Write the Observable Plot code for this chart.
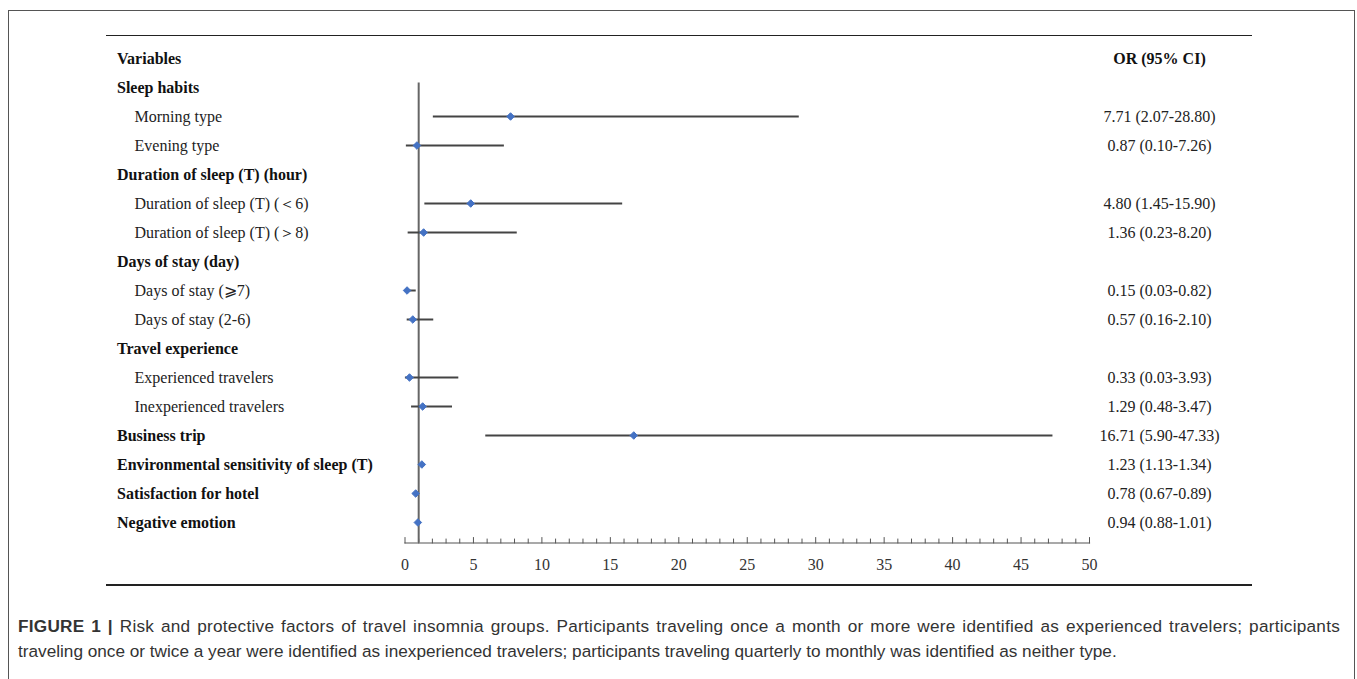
<!DOCTYPE html>
<html><head><meta charset="utf-8">
<script src="https://cdn.jsdelivr.net/npm/d3@7"></script>
<script src="https://cdn.jsdelivr.net/npm/@observablehq/plot@0.6"></script>
<style>
html,body{margin:0;padding:0;background:#fff;width:1357px;height:679px;overflow:hidden;position:relative}
#border{position:absolute;left:8px;top:10px;width:1347px;height:720px;border:1px solid #555;box-sizing:border-box}
#fig{position:absolute;left:106px;top:35px;width:1146px;border-top:1.5px solid #222;border-bottom:2px solid #222}
#fig svg{display:block;overflow:visible}
#caption{position:absolute;left:18px;top:614px;width:1322px;font-family:"Liberation Sans",Arial,sans-serif;font-size:17.2px;line-height:25px;color:#333}
#caption .l1{text-align:justify;text-align-last:justify;white-space:nowrap;letter-spacing:0.25px}
#caption b{font-weight:bold}
</style></head>
<body>
<div id="border"></div>
<div id="fig"></div>
<div id="caption"><div class="l1"><b>FIGURE 1 |</b> Risk and protective factors of travel insomnia groups. Participants traveling once a month or more were identified as experienced travelers; participants</div><div>traveling once or twice a year were identified as inexperienced travelers; participants traveling quarterly to monthly was identified as neither type.</div></div>
<script>
const labels = [
  "Variables",
  "Sleep habits",
  "Morning type",
  "Evening type",
  "Duration of sleep (T) (hour)",
  "Duration of sleep (T) (＜6)",
  "Duration of sleep (T) (＞8)",
  "Days of stay (day)",
  "Days of stay (⩾7)",
  "Days of stay (2-6)",
  "Travel experience",
  "Experienced travelers",
  "Inexperienced travelers",
  "Business trip",
  "Environmental sensitivity of sleep (T)",
  "Satisfaction for hotel",
  "Negative emotion"
];
const isHeader = [true, true, false, false, true, false, false, true, false, false, true, false, false, true, true, true, true];
const orValues = [null, null, 7.71, 0.87, null, 4.80, 1.36, null, 0.15, 0.57, null, 0.33, 1.29, 16.71, 1.23, 0.78, 0.94];
const ciLow    = [null, null, 2.07, 0.10, null, 1.45, 0.23, null, 0.03, 0.16, null, 0.03, 0.48, 5.90, 1.13, 0.67, 0.88];
const ciHigh   = [null, null, 28.80, 7.26, null, 15.90, 8.20, null, 0.82, 2.10, null, 3.93, 3.47, 47.33, 1.34, 0.89, 1.01];
const orLabels = ["OR (95% CI)", "", "7.71 (2.07-28.80)", "0.87 (0.10-7.26)", "", "4.80 (1.45-15.90)", "1.36 (0.23-8.20)", "",
  "0.15 (0.03-0.82)", "0.57 (0.16-2.10)", "", "0.33 (0.03-3.93)", "1.29 (0.48-3.47)", "16.71 (5.90-47.33)",
  "1.23 (1.13-1.34)", "0.78 (0.67-0.89)", "0.94 (0.88-1.01)"];
const tickLabels = [0, 5, 10, 15, 20, 25, 30, 35, 40, 45, 50];
const minorTicks = d3.range(0, 51).filter(v => v % 5 !== 0);
const referenceOR = 1;

const rows = labels.map((label, i) => ({
  label, header: isHeader[i], or: orValues[i], lo: ciLow[i], hi: ciHigh[i], orText: orLabels[i], first: i === 0
}));
const est = rows.filter(d => d.or != null);

const serif = "'Liberation Serif','Times New Roman',serif";
const tickShape = {draw(context, l) { context.moveTo(0, 0); context.lineTo(0, -l); }};

const chart = Plot.plot({
  width: 1146,
  height: 548,
  marginTop: 16,
  marginBottom: 41.5,
  marginLeft: 298.5,
  marginRight: 163,
  style: {fontFamily: serif, background: "transparent", overflow: "visible"},
  x: {domain: [0, 50]},
  y: {type: "point", domain: labels, padding: 0, insetBottom: 15.5, axis: null},
  marks: [
    Plot.frame({anchor: "bottom", stroke: "#555", strokeWidth: 1.2}),
    Plot.vector(minorTicks, {x: d => d, frameAnchor: "bottom", length: 4, rotate: 0, anchor: "start", shape: tickShape, stroke: "#555", strokeWidth: 1}),
    Plot.vector(tickLabels, {x: d => d, frameAnchor: "bottom", length: 5.5, rotate: 0, anchor: "start", shape: tickShape, stroke: "#555", strokeWidth: 1}),
    Plot.axisX({ticks: tickLabels, tickSize: 0, tickPadding: 16, tickFormat: d => String(d), fontSize: 16, fontFamily: serif, fill: "#333"}),
    Plot.ruleX([referenceOR], {stroke: "#666", strokeWidth: 2, insetTop: 30.5}),
    Plot.ruleY(est, {y: "label", x1: "lo", x2: "hi", stroke: "#444", strokeWidth: 2}),
    Plot.dot(est, {x: "or", y: "label", symbol: "diamond2", r: 3.4, fill: "#4472C4", stroke: "#4472C4", strokeWidth: 1}),
    Plot.text(rows.filter(d => d.header), {y: "label", text: "label", frameAnchor: "left", dx: -288, textAnchor: "start", fontSize: 16, fontWeight: "bold", fill: "#111"}),
    Plot.text(rows.filter(d => !d.header), {y: "label", text: "label", frameAnchor: "left", dx: -270.5, textAnchor: "start", fontSize: 16, fill: "#222"}),
    Plot.text(rows.filter(d => d.first), {y: "label", text: "orText", frameAnchor: "right", dx: 70, textAnchor: "middle", fontSize: 16, fontWeight: "bold", fill: "#111"}),
    Plot.text(rows.filter(d => d.orText && !d.first), {y: "label", text: "orText", frameAnchor: "right", dx: 70, textAnchor: "middle", fontSize: 16, fill: "#222"})
  ]
});
document.getElementById("fig").appendChild(chart);
</script>
</body></html>
